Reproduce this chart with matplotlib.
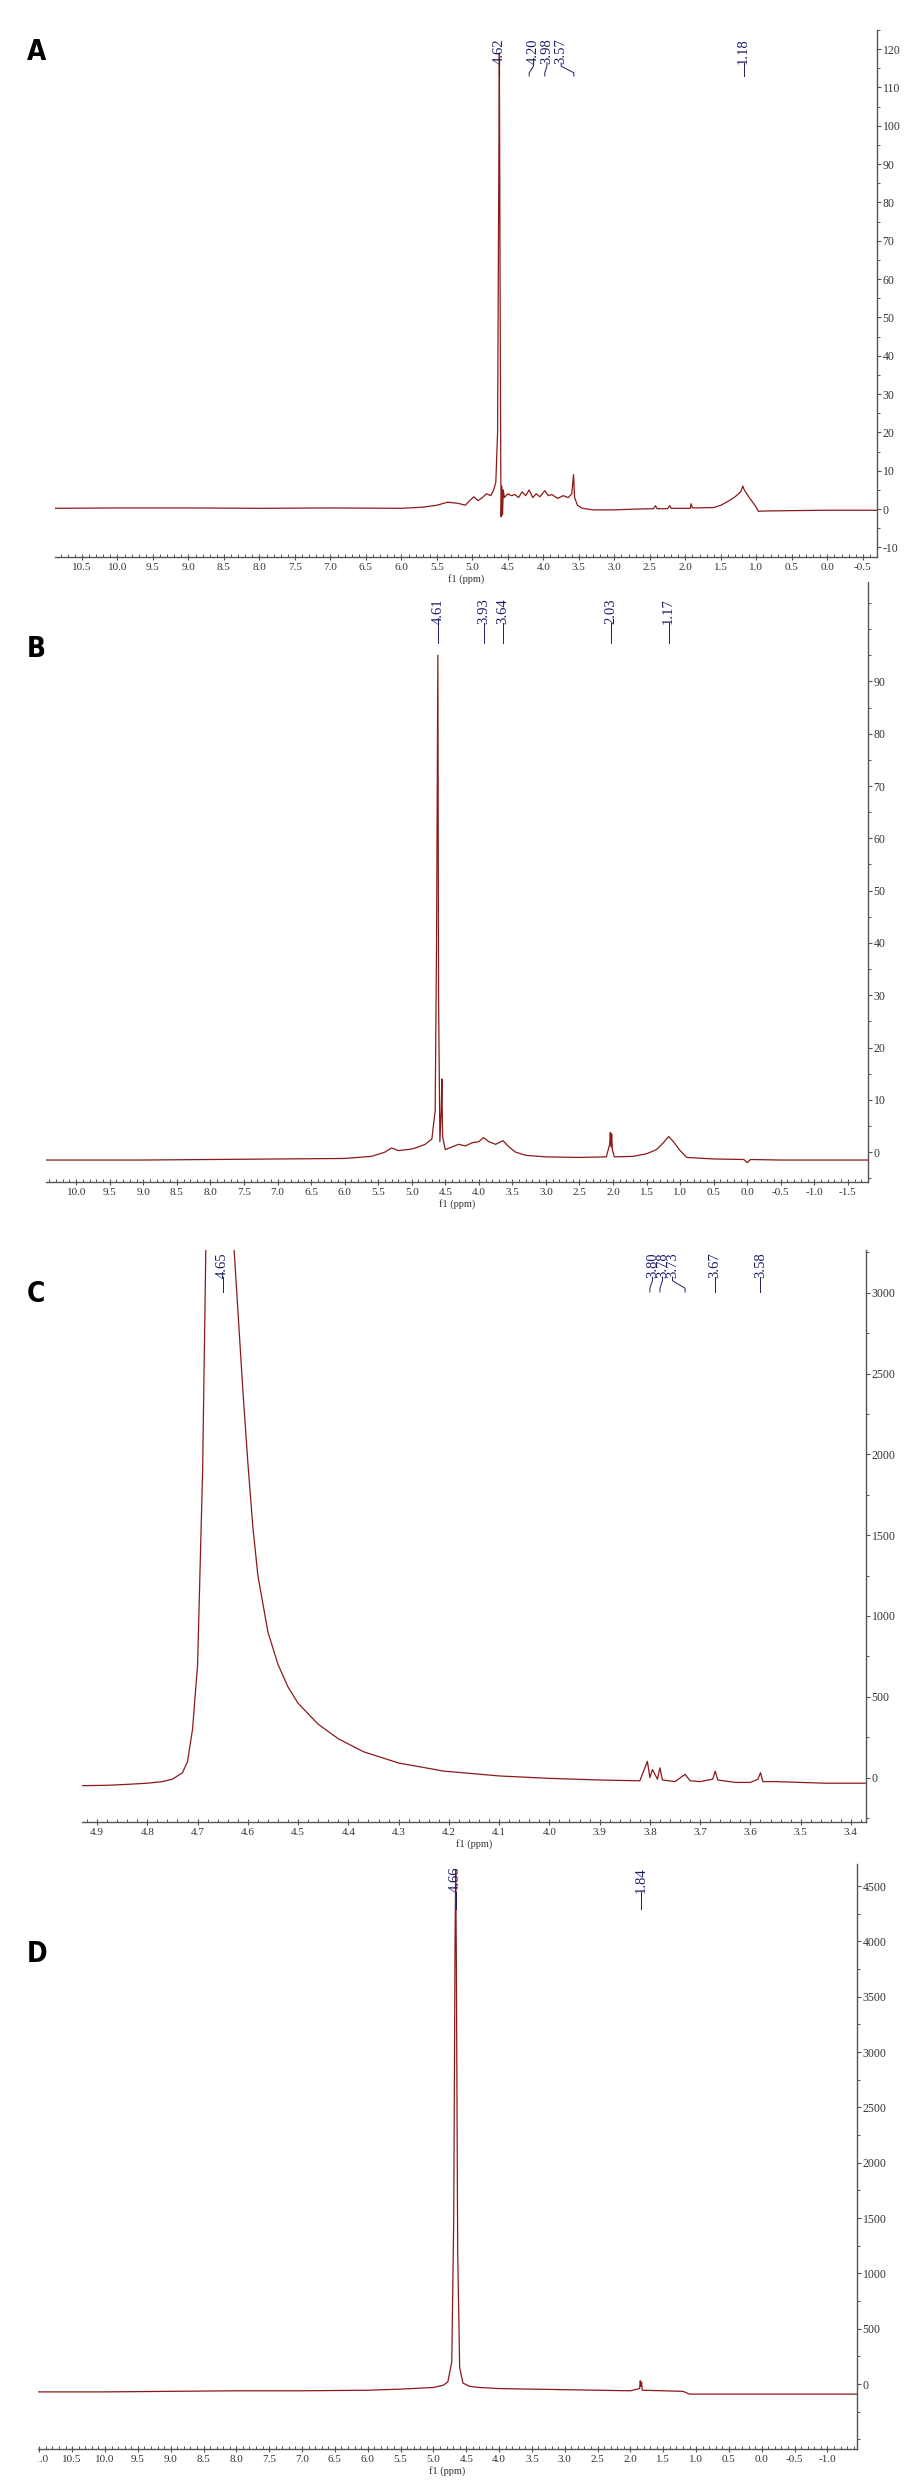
import matplotlib
matplotlib.use("Agg")
import matplotlib.pyplot as plt
from matplotlib.ticker import MultipleLocator, FixedLocator
from matplotlib.transforms import Bbox, TransformedBbox

# ---------------- data ----------------
# Panel A
a_ppm = [10.88, 10.0, 9.0, 8.0, 7.0, 6.0, 5.7, 5.5, 5.35, 5.2, 5.1, 5.05, 4.98, 4.92, 4.86, 4.8,
         4.74, 4.70, 4.67, 4.645, 4.63, 4.62, 4.61, 4.60, 4.595, 4.585, 4.575, 4.565, 4.55,
         4.5, 4.45, 4.40, 4.35, 4.30, 4.25, 4.20, 4.15, 4.10, 4.05, 3.98, 3.93, 3.88, 3.80,
         3.72, 3.65, 3.60, 3.575, 3.56, 3.52, 3.45, 3.3, 3.0, 2.7, 2.45, 2.42, 2.40, 2.25,
         2.22, 2.20, 1.93, 1.92, 1.90, 1.6, 1.5, 1.4, 1.3, 1.22, 1.19, 1.17, 1.1, 1.02, 0.97,
         0.9, 0.5, 0.0, -0.70]
a_int = [0.2, 0.3, 0.3, 0.2, 0.3, 0.2, 0.5, 1.0, 1.8, 1.5, 1.0, 2.0, 3.2, 2.2, 3.0, 4.0,
         3.5, 5.0, 7.0, 20, 80, 119, 60, 10, -2, 6, -1.5, 5, 3,
         4, 3.5, 3.8, 3, 4.5, 3.5, 5, 3, 4, 3.2, 4.8, 3.5, 3.8, 2.8,
         3.5, 3.0, 4, 9, 3, 1.0, 0.2, -0.2, -0.2, 0, 0.1, 0.9, 0.1, 0.1,
         0.9, 0.2, 0.2, 1.4, 0.3, 0.4, 1.0, 2.0, 3.2, 4.5, 6.0, 5.0, 3.0, 1.0, -0.6,
         -0.5, -0.4, -0.3, -0.3]
a_labels = ["4.62", "4.20", "3.98", "3.57", "1.18"]
a_label_ppm = [4.62, 4.20, 3.98, 3.57, 1.18]
a_yticks = [-10, 0, 10, 20, 30, 40, 50, 60, 70, 80, 90, 100, 110, 120]

# Panel B
b_ppm = [10.45, 9.0, 8.0, 7.0, 6.0, 5.6, 5.4, 5.3, 5.2, 5.0, 4.9, 4.8, 4.7, 4.65, 4.63, 4.61,
         4.60, 4.58, 4.56, 4.55, 4.54, 4.50, 4.40, 4.30, 4.20, 4.10, 4.00, 3.93, 3.85, 3.75,
         3.64, 3.55, 3.45, 3.30, 3.00, 2.50, 2.10, 2.05, 2.04, 2.03, 2.02, 2.01, 1.98, 1.70,
         1.50, 1.35, 1.25, 1.17, 1.10, 1.00, 0.90, 0.50, 0.05, 0.0, -0.05, -0.5, -1.0, -1.8]
b_int = [-1.5, -1.5, -1.4, -1.3, -1.2, -0.8, 0.0, 0.8, 0.3, 0.6, 1.0, 1.5, 2.5, 8, 40, 95,
         30, 2, 8, 14, 3, 0.5, 1.0, 1.5, 1.2, 1.8, 2.0, 2.8, 2.0, 1.5,
         2.2, 1.0, 0.0, -0.6, -0.9, -1.0, -0.9, 1.5, 3.8, 1.0, 3.5, 0.5, -0.9, -0.8,
         -0.3, 0.5, 1.8, 3.0, 2.0, 0.3, -1.0, -1.3, -1.4, -2.0, -1.4, -1.5, -1.5, -1.5]
b_labels = ["4.61", "3.93", "3.64", "2.03", "1.17"]
b_label_ppm = [4.61, 3.93, 3.64, 2.03, 1.17]
b_yticks = [0, 10, 20, 30, 40, 50, 60, 70, 80, 90]

# Panel C
c_ppm = [4.93, 4.88, 4.84, 4.80, 4.77, 4.75, 4.73, 4.72, 4.71, 4.70, 4.69, 4.683, 4.675, 4.66,
         4.64, 4.63, 4.62, 4.61, 4.60, 4.59, 4.58, 4.56, 4.54, 4.52, 4.50, 4.46, 4.42, 4.37,
         4.30, 4.21, 4.10, 4.00, 3.90, 3.82, 3.805, 3.80, 3.795, 3.785, 3.78, 3.775, 3.75,
         3.73, 3.72, 3.70, 3.675, 3.67, 3.665, 3.63, 3.60, 3.585, 3.58, 3.575, 3.55, 3.50,
         3.45, 3.40, 3.37]
c_int = [-50, -48, -42, -35, -25, -10, 30, 100, 300, 700, 1900, 3400, 3400, 3400,
         3400, 3400, 2900, 2400, 1950, 1550, 1250, 900, 700, 560, 460, 330, 240, 160,
         90, 40, 10, -5, -15, -20, 100, 0, 50, -10, 60, -15, -25,
         20, -20, -25, -10, 40, -15, -30, -30, -10, 30, -25, -25, -30,
         -35, -35, -35]
c_labels = ["4.65", "3.80", "3.78", "3.73", "3.67", "3.58"]
c_label_ppm = [4.65, 3.80, 3.78, 3.73, 3.67, 3.58]
c_yticks = [0, 500, 1000, 1500, 2000, 2500, 3000]

# Panel D
d_ppm = [11.02, 10.0, 9.0, 8.0, 7.0, 6.0, 5.5, 5.0, 4.85, 4.78, 4.72, 4.69, 4.67, 4.66, 4.65,
         4.63, 4.60, 4.55, 4.45, 4.30, 4.00, 3.50, 3.00, 2.50, 2.00, 1.86, 1.85, 1.84, 1.83,
         1.82, 1.50, 1.20, 1.10, 0.50, 0.00, -0.50, -1.00, -1.45]
d_int = [-70, -70, -65, -60, -60, -55, -45, -30, -10, 20, 200, 1500, 4000, 4650, 3800,
         1200, 150, 10, -20, -30, -40, -45, -50, -55, -60, -40, 30, -20, 20, -55, -60, -65,
         -90, -90, -90, -90, -90, -90]
d_labels = ["4.66", "1.84"]
d_label_ppm = [4.66, 1.84]
d_yticks = [0, 500, 1000, 1500, 2000, 2500, 3000, 3500, 4000, 4500]

# x tick settings
a_xticks = [10.5 - 0.5 * i for i in range(23)]
b_xticks = [10.0 - 0.5 * i for i in range(24)]
c_xticks = [4.9 - 0.1 * i for i in range(16)]
d_xticks = [11.0 - 0.5 * i for i in range(25)]

# ---------------- figure ----------------
W, H = 924, 2480
fig = plt.figure(figsize=(W / 100, H / 100), dpi=100)

LINE = "#8b1a1a"
NAVY = "#1c1c6b"
AXC = "#555555"
SERIF = ["Liberation Serif", "DejaVu Serif"]


def make_panel(left, right, top, bottom, xlim, ylim, ppm, inten, xticks, xminor,
               yticks, yminor, xfmt, letter, labels, label_ppm, label_text_ppm,
               label_top_px, line_len, letter_y):
    ax = fig.add_axes([left / W, 1 - bottom / H, (right - left) / W, (bottom - top) / H])
    ax.plot(ppm, inten, color=LINE, lw=0.9)
    ax.set_xlim(*xlim)
    ax.set_ylim(*ylim)
    for s in ["top", "left"]:
        ax.spines[s].set_visible(False)
    ax.spines["right"].set_color(AXC)
    ax.spines["bottom"].set_color(AXC)
    ax.spines["right"].set_linewidth(1.0)
    ax.spines["bottom"].set_linewidth(1.0)
    ax.yaxis.tick_right()
    ax.yaxis.set_major_locator(FixedLocator(yticks))
    ax.yaxis.set_minor_locator(MultipleLocator(yminor))
    ax.tick_params(axis="y", which="major", direction="out", length=3, width=0.8,
                   color=AXC, labelsize=8.5, pad=1, labelcolor="#333333")
    ax.tick_params(axis="y", which="minor", direction="out", length=2, width=0.7, color=AXC)
    ax.set_yticklabels([str(v) for v in yticks], family=SERIF)
    ax.xaxis.set_major_locator(FixedLocator(xticks))
    ax.xaxis.set_minor_locator(MultipleLocator(xminor))
    ax.tick_params(axis="x", which="major", direction="inout", length=5, width=0.8,
                   color=AXC, labelsize=8, pad=2, labelcolor="#333333")
    ax.tick_params(axis="x", which="minor", direction="in", length=2.5, width=0.7, color=AXC)
    ax.set_xticklabels([xfmt(v) for v in xticks], family=SERIF)
    # tick labels are clipped at the plot's left edge (as in the original software)
    clip = TransformedBbox(Bbox([[left / W, 0], [1, 1]]), fig.transFigure)
    for t in ax.get_xticklabels():
        t.set_clip_box(clip)
        t.set_clip_on(True)
    ax.set_xlabel("f1 (ppm)", fontsize=7.5, family=SERIF, labelpad=1, color="#333333")
    ax.patch.set_alpha(0)
    # peak labels: positions given in pixels below the spine top
    hpx = bottom - top
    yf = lambda px: 1 - px / hpx
    trans = ax.get_xaxis_transform()
    t0 = label_top_px
    t1 = t0 + 25
    for lab, pk, tx in zip(labels, label_ppm, label_text_ppm):
        ax.text(tx, yf(t0), lab, rotation=90, ha="center", va="top", fontsize=10.5,
                family=SERIF, color=NAVY, transform=trans)
        seg = line_len / 4.0
        ax.plot([tx, tx, pk, pk], [yf(t1), yf(t1 + seg), yf(t1 + 3 * seg), yf(t1 + line_len)],
                color=NAVY, lw=0.7, transform=trans, clip_on=False)
    fig.text(27 / W, 1 - letter_y / H, letter, fontsize=20, fontweight="bold",
             fontstretch="condensed",
             family=["Liberation Sans Narrow", "DejaVu Sans"],
             ha="left", va="center")
    return ax


fmt1 = lambda v: "%.1f" % v if abs(v) > 1e-9 else "0.0"

make_panel(55, 877, 30, 557, (10.88, -0.70), (-12.5, 125), a_ppm, a_int, a_xticks, 0.1,
           a_yticks, 5, fmt1, "A", a_labels, a_label_ppm, [4.62, 4.14, 3.95, 3.75, 1.18],
           8, 13, 52)
make_panel(46, 868, 582, 1182, (10.45, -1.8), (-5.7, 109), b_ppm, b_int, b_xticks, 0.1,
           b_yticks, 5, fmt1, "B", b_labels, b_label_ppm, b_label_ppm,
           16, 20, 649)
make_panel(82, 866, 1250, 1822, (4.93, 3.37), (-275, 3265), c_ppm, c_int, c_xticks, 0.02,
           c_yticks, 250, fmt1, "C", c_labels, c_label_ppm,
           [4.65, 3.795, 3.775, 3.755, 3.67, 3.58], 2, 15, 1294)
make_panel(38, 857, 1864, 2449, (11.02, -1.45), (-586, 4700), d_ppm, d_int, d_xticks, 0.1,
           d_yticks, 250, fmt1, "D", d_labels, d_label_ppm, d_label_ppm,
           3, 17, 1954)

fig.savefig("out.png", dpi=100, facecolor="white")
